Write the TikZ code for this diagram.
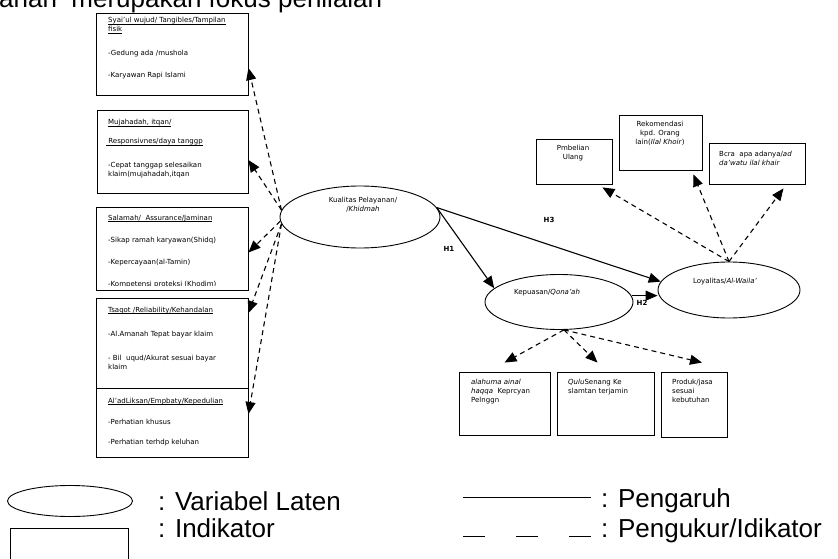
\documentclass[tikz,border=0pt]{standalone}
\usepackage{fontspec}
\setmainfont{DejaVu Sans}
\newfontfamily\legfont{Liberation Sans}
\usetikzlibrary{shapes,arrows.meta,positioning,calc}

% heading with a heavy underline
\newcommand{\hdl}[1]{\setbox0\hbox{#1}\rlap{\rule[-1.6pt]{\wd0}{0.8pt}}\box0}

\begin{document}
\begin{tikzpicture}[
    x=1pt, y=-1pt,
    font=\fontsize{7}{9}\selectfont,
    ind/.style={rectangle, draw, line width=0.9pt, inner sep=0pt},
    latent/.style={ellipse, draw, line width=0.9pt, inner sep=0pt},
    txt/.style={inner sep=0pt, anchor=base west, align=left},
    leg/.style={inner sep=0pt, anchor=base west, font=\legfont\fontsize{26}{28}\selectfont},
    line/.style={draw, line width=1.1pt, -{Triangle[length=12pt,width=10pt]}},
    meas/.style={line, dash pattern=on 5pt off 4pt}
]
    \clip (0,0) rectangle (838,559);
    \node [leg] (toptxt) at (-1,8) {anan\ \ merupakan fokus penilaian};

    % indikator kualitas pelayanan (base = last line)
    \node [ind, minimum width=152pt, minimum height=82pt] (tang) at (172,54) {};
    \node [txt] (tang1) at (108,32) {\hdl{Syai'ul wujud/ Tangibles/Tampilan}\\\hdl{fisik}};
    \node [txt] (tang2) at (108,56) {-Gedung ada /mushola};
    \node [txt] (tang3) at (108,78) {-Karyawan Rapi Islami};

    \node [ind, minimum width=151pt, minimum height=83pt] (resp) at (172.5,151.5) {};
    \node [txt] (resp1) at (108,125) {\hdl{Mujahadah, itqan/}};
    \node [txt] (resp2) at (106,144) {\hdl{ Responsivnes/daya tanggp}};
    \node [txt] (resp3) at (108,176) {-Cepat tanggap selesaikan\\klaim(mujahadah,itqan};

    \node [ind, minimum width=152pt, minimum height=83pt] (assu) at (172,248.5) {};
    \node [txt] (assu1) at (108,220) {\hdl{Salamah/\ \ Assurance/Jaminan}};
    \node [txt] (assu2) at (108,242) {-Sikap ramah karyawan(Shidq)};
    \node [txt] (assu3) at (108,264) {-Kepercayaan(al-Tamin)};
    \begin{scope}
        \clip (assu.north west) rectangle ([yshift=4.5pt]assu.south east);
        \node [txt] (assu4) at (108,286) {-Kompetensi proteksi (Khodim)};
    \end{scope}

    \node [ind, minimum width=152pt, minimum height=90pt] (reli) at (172,343) {};
    \node [txt] (reli1) at (108,312) {\hdl{Tsaqot /Reliability/Kehandalan}};
    \node [txt] (reli2) at (108,336) {-Al.Amanah Tepat bayar klaim};
    \node [txt] (reli3) at (108,369) {- Bil\ \ uqud/Akurat sesuai bayar\\klaim};

    \node [ind, minimum width=152pt, minimum height=69pt] (empa) at (172,422.5) {};
    \node [txt] (empa1) at (108,403) {\hdl{Al'adLiksan/Empbaty/Kepedulian}};
    \node [txt] (empa2) at (108,424) {-Perhatian khusus};
    \node [txt] (empa3) at (108,444) {-Perhatian terhdp keluhan};

    % variabel laten
    \node [latent, minimum width=160pt, minimum height=62pt] (kual) at (360,217) {};
    \node [inner sep=0pt, align=center] (kualt) at (363,205) {Kualitas Pelayanan/\\/\textit{Khidmah}};
    \node [latent, minimum width=148pt, minimum height=55pt] (puas) at (559,302) {};
    \node [inner sep=0pt] (puast) at (547,293) {Kepuasan/\textit{Qona'ah}};
    \node [latent, minimum width=142pt, minimum height=56pt] (loyal) at (729,290) {};
    \node [inner sep=0pt] (loyalt) at (725,282) {Loyalitas/\textit{Al-Waila'}};

    % indikator loyalitas
    \node [ind, minimum width=76pt, minimum height=45pt] (pmb) at (574,161.5) {};
    \node [inner sep=0pt, align=center, anchor=base] (pmbt) at (573,160) {Pmbelian\\Ulang};
    \node [ind, minimum width=83pt, minimum height=55pt] (rek) at (660.5,142.5) {};
    \node [inner sep=0pt, align=center, anchor=base] (rekt) at (660,145) {Rekomendasi\\kpd. Orang\\lain(\textit{Ilal Khoir})};
    \node [ind, minimum width=96pt, minimum height=41pt] (bcr) at (757,163.5) {};
    \node [txt] (bcrt) at (719,165) {Bcra\ \ apa adanya/\textit{ad}\\\textit{da'watu ilal khair}};

    % indikator kepuasan
    \node [ind, minimum width=91pt, minimum height=63pt] (alah) at (504.5,403.5) {};
    \node [txt] (alaht) at (471,402) {\textit{alahuma ainal}\\\textit{haqqa}\ \ Keprcyan\\Pelnggn};
    \node [ind, minimum width=97pt, minimum height=63pt] (qulu) at (605.5,403.5) {};
    \node [txt] (qulut) at (568,393) {\textit{Qulu}Senang Ke\\slamtan terjamin};
    \node [ind, minimum width=66pt, minimum height=65pt] (prod) at (694,404.5) {};
    \node [txt] (prodt) at (672,402) {Produk/jasa\\sesuai\\kebutuhan};

    \path [meas] (kual.175) -- ([yshift=-14pt]tang.east);
    \path [meas] (kual.175) -- ([yshift=-8.5pt]resp.east);
    \path [meas] (kual.183) -- ([yshift=-4pt]assu.east);
    \path [meas] (kual.185) -- ([yshift=30pt]reli.east);
    \path [meas] (kual.185) -- ([yshift=8.5pt]empa.east);

    \path [line] (kual.7) -- (puas.168);
    \path [line] (kual.7) -- (loyal.173);
    \path [line] (puas.5) -- (puas.5 -| loyal.west);
    \node [font=\bfseries\fontsize{7}{9}\selectfont] (h1) at (449,249) {H1};
    \node [font=\bfseries\fontsize{7}{9}\selectfont] (h3) at (549,220) {H3};
    \node [font=\bfseries\fontsize{7}{9}\selectfont] (h2) at (642,303) {H2};

    \path [meas] (loyal.north) -- ([xshift=-10pt,yshift=-3pt]pmb.south east);
    \path [meas] (loyal.north) -- ([xshift=-9pt,yshift=-4pt]rek.south east);
    \path [meas] (loyal.north) -- ([xshift=-22pt,yshift=-4pt]bcr.south east);

    \path [meas] (puas.-80) -- ([yshift=9pt]alah.north);
    \path [meas] (puas.-80) -- ([xshift=-8pt,yshift=9pt]qulu.north);
    \path [meas] (puas.-80) -- ([xshift=8pt,yshift=9pt]prod.north);

    % keterangan
    \node [latent, minimum width=125pt, minimum height=31pt] (legl) at (70,501) {};
    \node [ind, minimum width=118pt, minimum height=44pt] (legi) at (69,550) {};
    \node [leg] (leglt) at (158,510) {: Variabel Laten};
    \node [leg] (legit) at (158,537) {: Indikator};
    \coordinate (pa) at (463,497);
    \coordinate (pb) at (591,497);
    \draw [line width=1pt] (pa) -- (pb);
    \node [leg] (legp) at (601,507) {: Pengaruh};
    \coordinate (ma) at (463,536);
    \coordinate (mb) at (591,536);
    \draw [line width=1pt, dash pattern=on 22pt off 31pt] (ma) -- (mb);
    \node [leg] (legm) at (601,537) {: Pengukur/Idikator};
\end{tikzpicture}
\end{document}
